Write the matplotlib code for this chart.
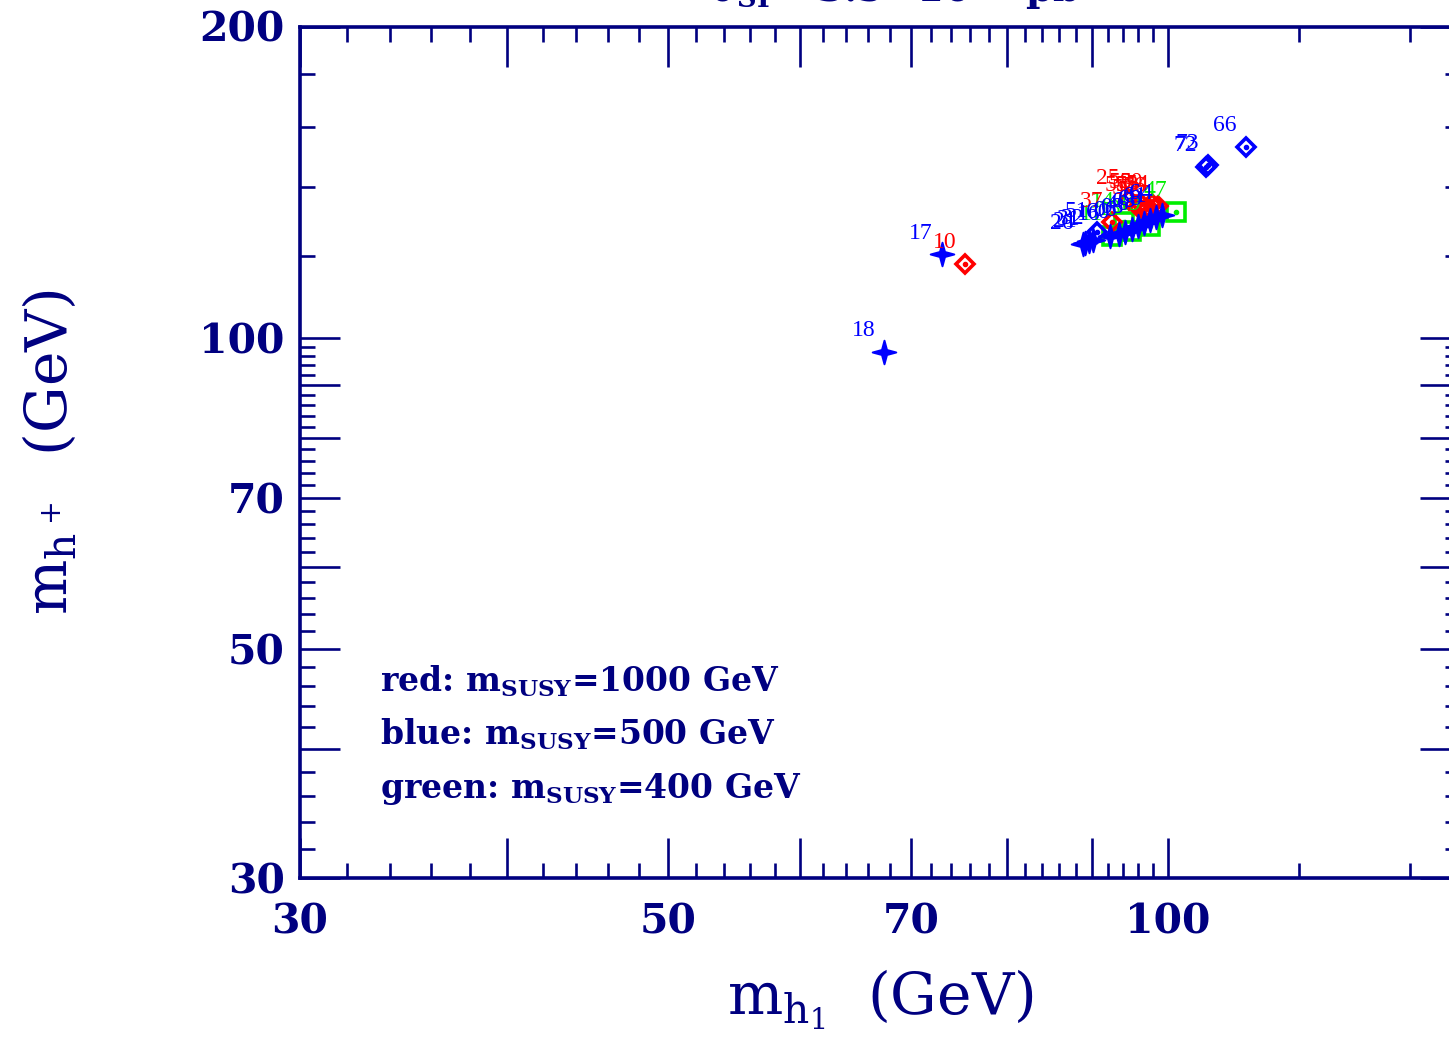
import matplotlib
matplotlib.use("Agg")
import matplotlib.pyplot as plt
from matplotlib.path import Path
from matplotlib.ticker import FixedLocator, FixedFormatter, NullFormatter
import numpy as np

NAVY = "#000080"
RED = "#ff0000"
BLUE = "#0000ff"
GREEN = "#00ee00"

# ---- data ----
red_x = [75.5, 92.6, 94.7, 95.9, 96.4, 96.8, 97.3, 97.9, 98.3, 97.6, 98.7]
red_y = [117.9, 129.4, 136.0, 133.9, 134.8, 133.0, 133.9, 134.8, 133.6, 132.4, 134.2]
red_lab = ["10", "37", "25", "55", "58", "59", "53", "50", "56", "52", "54"]

blue_star_x = [73.1, 67.5, 89.2, 89.7, 88.9, 90.2, 92.3, 93.4, 94.3, 95.2, 96.0, 96.8, 97.6, 98.4, 99.2]
blue_star_y = [120.5, 96.9, 123.6, 124.1, 123.1, 124.4, 125.5, 126.1, 126.6, 127.5, 128.3, 129.2, 130.0, 130.7, 131.5]
blue_star_lab = ["17", "18", "21", "31", "26", "32", "16", "60", "06", "08", "46", "63", "68", "61", "64"]

blue_dia_x = [90.7, 105.4, 105.8, 111.4]
blue_dia_y = [126.4, 146.3, 147.0, 153.0]
blue_dia_lab = ["51", "72", "73", "66"]

green_x = [101.1, 92.6, 95.0, 97.6, 94.1]
green_y = [132.4, 125.5, 126.9, 128.3, 129.4]
green_lab = ["47", "11", "13", "19", "14"]

x_major = [30, 40, 50, 60, 70, 80, 90, 100]
x_major_lab = ["30", "", "50", "", "70", "", "", "100"]
x_minor = [32, 34, 36, 38, 42, 44, 46, 48, 52, 54, 56, 58, 62, 64, 66, 68,
           72, 74, 76, 78, 82, 84, 86, 88, 92, 94, 96, 98, 120, 140]
y_major = [30, 40, 50, 60, 70, 80, 90, 100, 200]
y_major_lab = ["30", "", "50", "", "70", "", "", "100", "200"]
y_minor = [32, 34, 36, 38, 42, 44, 46, 48, 52, 54, 56, 58, 62, 64, 66, 68,
           72, 74, 76, 78, 82, 84, 86, 88, 92, 94, 96, 98, 120, 140, 160, 180]

legend_lines = [r"red: m$_{\mathbf{SUSY}}$=1000 GeV",
                r"blue: m$_{\mathbf{SUSY}}$=500 GeV",
                r"green: m$_{\mathbf{SUSY}}$=400 GeV"]

# ---- style ----
FONT = "DejaVu Serif"
plt.rcParams["mathtext.fontset"] = "custom"
plt.rcParams["mathtext.rm"] = FONT
plt.rcParams["mathtext.it"] = FONT
plt.rcParams["mathtext.bf"] = FONT + ":bold"
plt.rcParams["mathtext.sf"] = FONT
plt.rcParams["font.family"] = [FONT, "DejaVu Sans"]

W, H = 1449, 1039
fig = plt.figure(figsize=(W / 100, H / 100), dpi=100)
left, right, bottom, top = 300, 1460, 878, 26.5
ax = fig.add_axes([left / W, 1 - bottom / H, (right - left) / W, (bottom - top) / H])
ax.set_xscale("log")
ax.set_yscale("log")
ax.set_xlim(30, 150)
ax.set_ylim(30, 200)

for s in ax.spines.values():
    s.set_color(NAVY)
    s.set_linewidth(2.6)

ax.xaxis.set_major_locator(FixedLocator(x_major))
ax.xaxis.set_major_formatter(FixedFormatter(x_major_lab))
ax.xaxis.set_minor_locator(FixedLocator(x_minor))
ax.xaxis.set_minor_formatter(NullFormatter())
ax.yaxis.set_major_locator(FixedLocator(y_major))
ax.yaxis.set_major_formatter(FixedFormatter(y_major_lab))
ax.yaxis.set_minor_locator(FixedLocator(y_minor))
ax.yaxis.set_minor_formatter(NullFormatter())

ax.tick_params(which="both", direction="in", top=True, right=True, color=NAVY, width=1.9)
ax.tick_params(which="major", length=29)
ax.tick_params(which="minor", length=10.5)
ax.tick_params(axis="x", which="major", pad=18, labelsize=29.5, labelcolor=NAVY)
ax.tick_params(axis="y", which="major", pad=11, labelsize=29.5, labelcolor=NAVY)
for lab in ax.get_xticklabels() + ax.get_yticklabels():
    lab.set_fontweight("bold")

# ---- markers ----
t = np.linspace(0, 2 * np.pi, 9)[:-1] + np.pi / 2
r = np.where(np.arange(8) % 2 == 0, 1.0, 0.3)
star_verts = np.column_stack([r * np.cos(t), r * np.sin(t)])
star_path = Path(np.vstack([star_verts, star_verts[:1]]), closed=True)

lab_kw = dict(textcoords="offset points", xytext=(-15, 15), ha="center", va="center",
              fontsize=17, family="Liberation Serif")

def labels(xs, ys, labs, color):
    for x, y, l in zip(xs, ys, labs):
        ax.annotate(l, (x, y), color=color, **lab_kw)

# green squares
ax.plot(green_x, green_y, ls="none", marker="s", ms=13, mfc="none", mec=GREEN, mew=2.6)
ax.plot(green_x, green_y, ls="none", marker="o", ms=3, color=GREEN)
labels(green_x, green_y, green_lab, GREEN)

# red diamonds
ax.plot(red_x, red_y, ls="none", marker="D", ms=9, mfc="none", mec=RED, mew=2.6)
ax.plot(red_x, red_y, ls="none", marker="o", ms=3, color=RED)
labels(red_x, red_y, red_lab, RED)

# blue diamonds
ax.plot(blue_dia_x, blue_dia_y, ls="none", marker="D", ms=9, mfc="none", mec=BLUE, mew=2.6)
ax.plot(blue_dia_x, blue_dia_y, ls="none", marker="o", ms=3, color=BLUE)
labels(blue_dia_x, blue_dia_y, blue_dia_lab, BLUE)

# blue stars
ax.plot(blue_star_x, blue_star_y, ls="none", marker=star_path, ms=17, color=BLUE, mec=BLUE, mew=1.4)
labels(blue_star_x, blue_star_y, blue_star_lab, BLUE)

# ---- legend text ----
for txt, yb in zip(legend_lines, [692, 745, 798]):
    fig.text(380 / W, 1 - yb / H, txt, color=NAVY, fontsize=23.8, fontweight="bold",
             ha="left", va="baseline")

# ---- axis labels ----
fig.text(880 / W, 1 - 1015 / H, r"m$_{h_1}$  (GeV)", color=NAVY, fontsize=42,
         ha="center", va="baseline")
fig.text(50 / W, 1 - 452 / H, r"m$_{h^+}$  (GeV)", color=NAVY, fontsize=42,
         ha="center", va="center", rotation=90, rotation_mode="anchor")

# ---- clipped title ----
fig.text(895 / W, 1 - 1 / H, r"$\sigma_{\mathbf{SI}}$< 3.5$\times$10$^{-8}$ pb",
         color=NAVY, fontsize=28, fontweight="bold", ha="center", va="baseline")

fig.savefig("out.png", dpi=100)
